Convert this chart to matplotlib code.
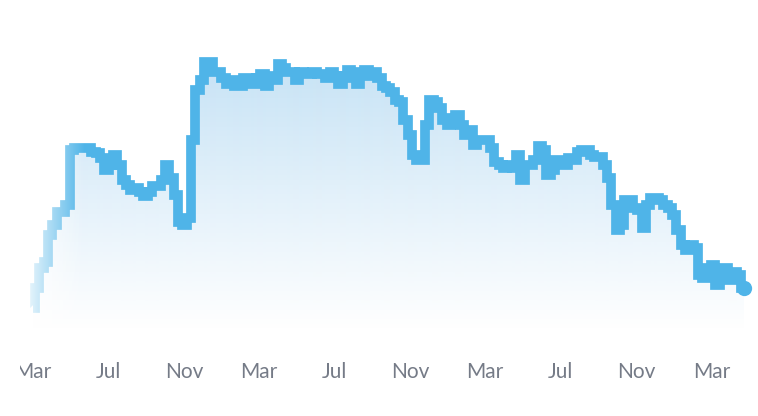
import matplotlib
matplotlib.use('Agg')
import matplotlib.pyplot as plt
import matplotlib.dates as mdates
import matplotlib.transforms as mtransforms
import numpy as np
import pandas as pd

# weekly values, starting in March
start = '2021-03-01'
values = [22, 42, 62, 68, 95, 105, 118, 118, 125, 180,
          182, 182, 182, 182, 178, 177, 172, 160, 165, 175,
          165, 150, 145, 140, 142, 138, 134, 138, 144, 144,
          150, 165, 152, 135, 108, 105, 112, 190, 240, 250,
          268, 268, 258, 258, 252, 246, 250, 244, 244, 252,
          252, 246, 252, 256, 244, 254, 250, 266, 262, 258,
          258, 250, 258, 256, 256, 258, 256, 256, 252, 258,
          254, 246, 254, 260, 252, 246, 258, 260, 254, 258,
          252, 244, 242, 238, 230, 228, 210, 195, 175, 170,
          170, 205, 230, 228, 222, 210, 205, 212, 215, 205,
          195, 200, 185, 190, 190, 190, 182, 168, 165, 162,
          165, 162, 175, 150, 165, 165, 170, 184, 180, 155,
          160, 170, 170, 165, 172, 170, 178, 180, 180, 175,
          173, 173, 165, 152, 125, 100, 105, 130, 130, 122,
          120, 102, 125, 132, 132, 130, 125, 122, 115, 100,
          85, 80, 85, 82, 55, 52, 62, 65, 45, 62,
          62, 50, 58, 55, 42]

tick_dates = ['2021-03-01', '2021-07-01', '2021-11-01', '2022-03-01',
              '2022-07-01', '2022-11-01', '2023-03-01', '2023-07-01',
              '2023-11-01', '2024-03-01']
tick_labels = ['Mar', 'Jul', 'Nov', 'Mar', 'Jul', 'Nov', 'Mar', 'Jul', 'Nov', 'Mar']

blue = '#4fb4e8'
fill_blue = np.array([201, 228, 246]) / 255

x = mdates.date2num(pd.date_range(start, periods=len(values), freq='7D').to_pydatetime())
x0 = mdates.date2num(pd.Timestamp(start).to_pydatetime())
px_day = 225.9 / 365
xlim = (x0 - 33 / px_day, x0 + (758 - 33) / px_day)
ylim = (-25, 330)

fig = plt.figure(figsize=(7.58, 4.16), dpi=100)
ax = fig.add_axes([0, 61 / 416, 1, 355 / 416])

# gradient area under the line
poly = ax.fill_between(x, values, ylim[0], step='mid', color='none', lw=0)
n = 300
grad = np.zeros((n, 1, 4))
grad[:, 0, :3] = fill_blue
grad[:, 0, 3] = np.clip(np.linspace(300, 0, n) / 260, 0, 1)
im = ax.imshow(grad, extent=[xlim[0], xlim[1], 0, 300], aspect='auto',
               origin='upper', zorder=1, interpolation='bilinear')
im.set_clip_path(poly.get_paths()[0], transform=ax.transData)

ax.plot(x, values, drawstyle='steps-mid', color=blue, lw=7,
        solid_joinstyle='miter', solid_capstyle='butt', zorder=2)
ax.plot(x[-1], values[-1], 'o', ms=11, color=blue, mec='none', zorder=4)

# fade in at the left edge
fade = np.ones((1, n, 4))
fade[0, :, 3] = np.linspace(1, 0, n)
ax.imshow(fade, extent=[xlim[0] + 20 / px_day, xlim[0] + 85 / px_day, ylim[0], ylim[1]],
          aspect='auto', zorder=3, interpolation='bilinear')
ax.axvspan(xlim[0], xlim[0] + 20 / px_day, color='white', lw=0, zorder=3)

ax.set_xlim(xlim)
ax.set_ylim(ylim)
ax.set_xticks(mdates.date2num(pd.to_datetime(tick_dates).to_pydatetime()))
ax.set_xticklabels(tick_labels, fontsize=15, color='#757b87', family='Lato')
ax.tick_params(axis='x', length=0, pad=5)
ax.set_yticks([])
for s in ax.spines.values():
    s.set_visible(False)

clip = mtransforms.TransformedBbox(mtransforms.Bbox([[20 / 758, 0], [1, 1]]), fig.transFigure)
for t in ax.get_xticklabels():
    t.set_clip_box(clip)
    t.set_clip_on(True)

fig.savefig('out.png', dpi=100)
